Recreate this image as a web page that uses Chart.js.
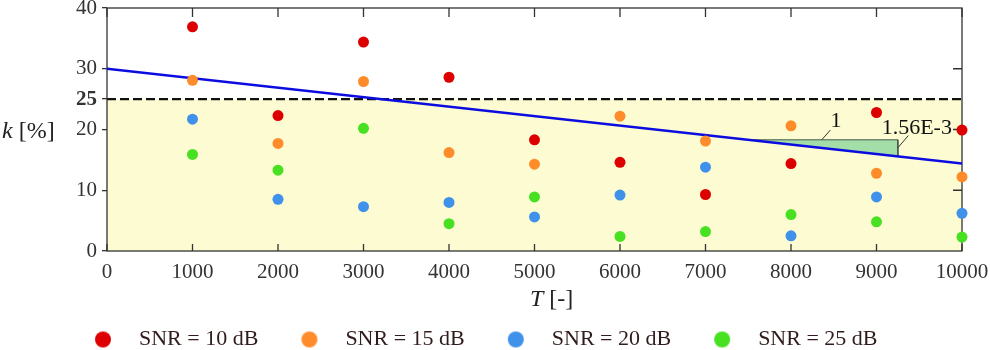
<!DOCTYPE html>
<html>
<head>
<meta charset="utf-8">
<script src="https://cdn.jsdelivr.net/npm/chart.js@4.4.1/dist/chart.umd.min.js"></script>
<style>
  html, body { margin: 0; padding: 0; background: #fff; }
</style>
</head>
<body>
<canvas id="myChart" width="990" height="350"></canvas>
<script>
// data
const T = [1000, 2000, 3000, 4000, 5000, 6000, 7000, 8000, 9000, 10000];
const snr10 = [36.9, 22.3, 34.4, 28.6, 18.3, 14.6, 9.3, 14.4, 22.8, 19.9];
const snr15 = [28.1, 17.7, 27.9, 16.2, 14.3, 22.2, 18.1, 20.6, 12.8, 12.2];
const snr20 = [21.7, 8.5, 7.3, 8.0, 5.6, 9.2, 13.8, 2.5, 8.9, 6.2];
const snr25 = [15.9, 13.3, 20.2, 4.5, 8.9, 2.4, 3.2, 6.0, 4.8, 2.3];
const snrLabels = ['SNR = 10 dB', 'SNR = 15 dB', 'SNR = 20 dB', 'SNR = 25 dB'];
const snrColors = ['#dc0000', '#ff8c2a', '#3f91ea', '#48e122'];

const fitT = [0, 10000];
const fitK = [30, 14.4];
const limitK = 25;
const triT = [7500, 9250, 9250, 7500];
const triK = [18.3, 18.3, 15.57, 18.3];

const yTicks = [0, 10, 20, 25, 30, 40];
const slopeText = ['1', '1.56E-3'];

const serif = "'Liberation Serif', 'Times New Roman', serif";
const inkColor = '#333';

function toPoints(xs, ys) {
  return xs.map((v, i) => ({ x: v, y: ys[i] }));
}

// small round marker for the legend, with room on its left/right
function legendDot(color) {
  const c = document.createElement('canvas');
  c.width = 50; c.height = 18;
  const g = c.getContext('2d');
  g.fillStyle = color;
  g.beginPath();
  g.arc(25, 9, 8, 0, Math.PI * 2);
  g.fill();
  return c;
}
const dots = snrColors.map(legendDot);

const scatterSets = [snr10, snr15, snr20, snr25].map((s, i) => ({
  type: 'scatter',
  label: snrLabels[i],
  data: toPoints(T, s),
  backgroundColor: snrColors[i],
  pointRadius: 5.5,
  pointBorderWidth: 0,
  borderWidth: 0,
  clip: false,
  order: 0
}));

// frame + inward ticks, drawn right after the yellow area
const frame = {
  id: 'frame',
  afterDatasetDraw(chart, args) {
    if (args.index !== 4) return;
    const { ctx, chartArea: a, scales: { x, y } } = chart;
    ctx.save();
    ctx.strokeStyle = inkColor;
    ctx.lineWidth = 1.3;
    ctx.strokeRect(a.left, a.top, a.right - a.left, a.bottom - a.top);
    ctx.beginPath();
    x.ticks.forEach(t => {
      const px = x.getPixelForValue(t.value);
      ctx.moveTo(px, a.top); ctx.lineTo(px, a.top + 9);
      ctx.moveTo(px, a.bottom); ctx.lineTo(px, a.bottom - 7);
    });
    [10, 20, 30].forEach(v => {
      const py = y.getPixelForValue(v);
      ctx.moveTo(a.right, py); ctx.lineTo(a.right - 9, py);
    });
    ctx.stroke();
    ctx.restore();
  }
};

// axis titles (italic symbol + upright unit) and the slope triangle notes
const notes = {
  id: 'notes',
  afterDraw(chart) {
    const { ctx, scales: { x, y } } = chart;
    ctx.save();
    ctx.fillStyle = '#222';
    ctx.textBaseline = 'alphabetic';

    const mixed = (sym, unit, left, base, size) => {
      ctx.font = `italic ${size}px ${serif}`;
      ctx.fillText(sym, left, base);
      const w = ctx.measureText(sym).width;
      ctx.font = `${size}px ${serif}`;
      ctx.fillText(unit, left + w, base);
    };
    mixed('k', ' [%]', 2, 138, 24);
    mixed('T', ' [-]', 530, 306, 24);

    ctx.strokeStyle = '#333';
    ctx.lineWidth = 1;
    ctx.beginPath();
    ctx.moveTo(x.getPixelForValue(8359), y.getPixelForValue(18.3));
    ctx.lineTo(x.getPixelForValue(8460), y.getPixelForValue(19.9));
    ctx.moveTo(x.getPixelForValue(9250), y.getPixelForValue(17.0));
    ctx.lineTo(x.getPixelForValue(9372), y.getPixelForValue(19.0));
    ctx.stroke();

    ctx.fillStyle = '#111';
    ctx.font = `22px ${serif}`;
    ctx.textAlign = 'center';
    ctx.fillText(slopeText[0], x.getPixelForValue(8526), y.getPixelForValue(20.4));
    ctx.textAlign = 'left';
    ctx.fillText(slopeText[1], x.getPixelForValue(9060), y.getPixelForValue(19.26));
    ctx.restore();
  }
};

const ctx = document.getElementById('myChart');
const myChart = new Chart(ctx, {
  type: 'scatter',
  data: {
    datasets: [
      ...scatterSets,
      {
        type: 'line',
        label: 'limit',
        data: toPoints(fitT, [limitK, limitK]),
        borderColor: '#111',
        borderWidth: 2.4,
        borderDash: [9, 4],
        backgroundColor: '#fcfbd2',
        fill: 'origin',
        pointRadius: 0,
        order: 3
      },
      {
        type: 'line',
        label: 'slope',
        data: toPoints(triT, triK),
        borderColor: '#44584a',
        borderWidth: 1,
        backgroundColor: '#a3dea9',
        fill: 'shape',
        pointRadius: 0,
        tension: 0,
        order: 2
      },
      {
        type: 'line',
        label: 'fit',
        data: toPoints(fitT, fitK),
        borderColor: '#0c0ce0',
        borderWidth: 2.4,
        pointRadius: 0,
        fill: false,
        order: 1
      }
    ]
  },
  options: {
    responsive: false,
    animation: false,
    events: [],
    layout: { padding: { left: 52, right: 0, top: 0, bottom: 0 } },
    scales: {
      x: {
        type: 'linear',
        min: 0,
        max: 10000,
        border: { display: false },
        grid: { drawOnChartArea: false, drawTicks: false },
        ticks: {
          stepSize: 1000,
          padding: 9,
          color: inkColor,
          maxRotation: 0,
          callback: v => String(v),
          font: { family: serif, size: 21 }
        },
        afterFit(scale) {
          scale.height = 51.5;
          scale.paddingRight = 28;
          scale.paddingLeft = 0;
        }
      },
      y: {
        min: 0,
        max: 40,
        border: { display: false },
        grid: { drawOnChartArea: false, drawTicks: true, tickLength: 5, color: inkColor, lineWidth: 1.3 },
        afterBuildTicks(scale) {
          scale.ticks = yTicks.map(v => ({ value: v }));
        },
        ticks: {
          padding: 5,
          color: inkColor,
          font: c => ({ family: serif, size: 21, weight: c.tick && c.tick.value === 25 ? 'bold' : 'normal' })
        },
        afterFit(scale) {
          scale.width = 55;
          scale.paddingTop = 8;
          scale.paddingBottom = 0;
        }
      }
    },
    plugins: {
      tooltip: { enabled: false },
      legend: {
        position: 'bottom',
        align: 'start',
        maxHeight: 47.5,
        labels: {
          usePointStyle: true,
          pointStyleWidth: 50,
          padding: 26,
          color: '#301c1c',
          font: { family: serif, size: 22, lineHeight: 1 },
          filter: item => item.datasetIndex < 4,
          generateLabels(chart) {
            const items = Chart.defaults.plugins.legend.labels.generateLabels(chart);
            items.forEach(it => {
              if (it.datasetIndex < 4) it.pointStyle = dots[it.datasetIndex];
            });
            return items;
          }
        }
      }
    }
  },
  plugins: [frame, notes]
});
</script>
</body>
</html>
